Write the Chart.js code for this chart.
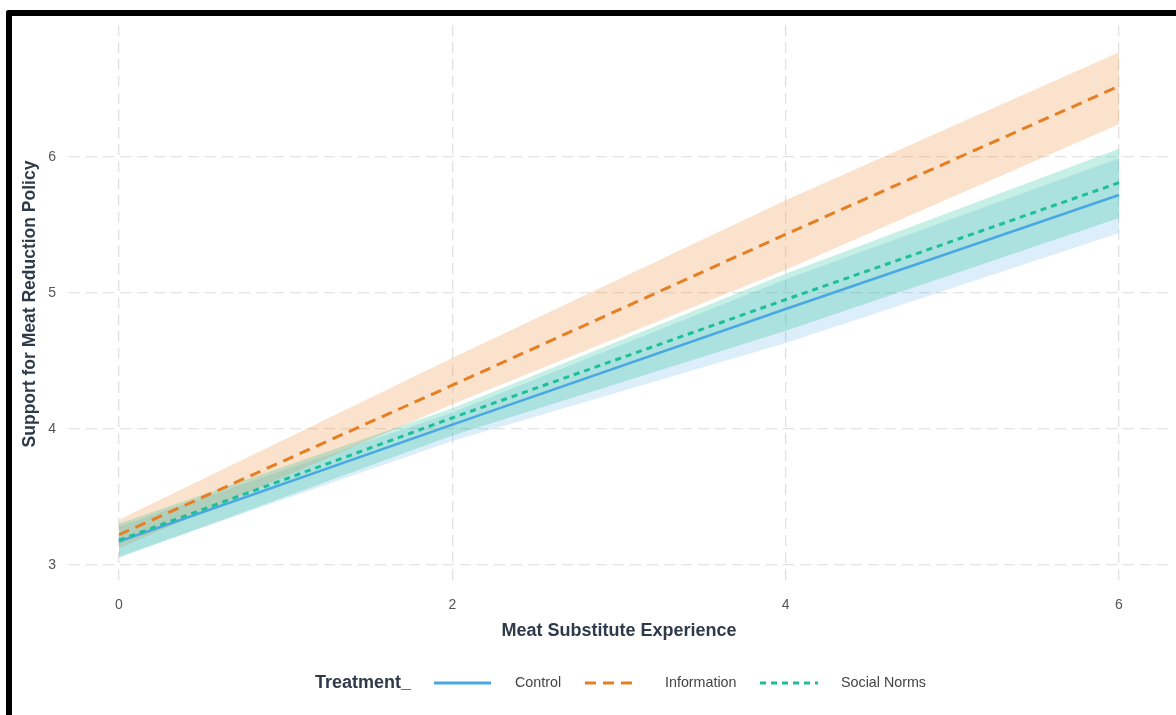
<!DOCTYPE html>
<html>
<head>
<meta charset="utf-8">
<script src="https://cdn.jsdelivr.net/npm/chart.js@4/dist/chart.umd.min.js"></script>
<style>
  html, body { margin: 0; padding: 0; background: #fff; }
  #wrap { position: relative; width: 1176px; height: 715px; overflow: hidden; background: #fff; }
  #c { position: absolute; left: 0; top: 0; }
  .bar { position: absolute; background: #000; }
</style>
</head>
<body>
<div id="wrap">
  <canvas id="c" width="1176" height="715"></canvas>
  <div class="bar" style="left:6px; top:10px; width:1170px; height:6px; border-top-left-radius:3px;"></div>
  <div class="bar" style="left:6px; top:10px; width:6px; height:705px; border-top-left-radius:3px;"></div>
</div>
<script>
// ---- data ----
const xValues = [0, 2, 4, 6];
const xTicks = [0, 2, 4, 6];
const yTicks = [3, 4, 5, 6];
const seriesNames = ['Control', 'Information', 'Social Norms'];
const legendTitle = 'Treatment_';
const xTitle = 'Meat Substitute Experience';
const yTitle = 'Support for Meat Reduction Policy';

const controlFit   = [3.17, 4.03, 4.88, 5.72];
const controlLower = [3.06, 3.91, 4.63, 5.44];
const controlUpper = [3.28, 4.12, 5.10, 5.99];

const infoFit   = [3.22, 4.32, 5.43, 6.52];
const infoLower = [3.12, 4.18, 5.17, 6.24];
const infoUpper = [3.33, 4.52, 5.68, 6.77];

const socialFit   = [3.18, 4.08, 4.95, 5.81];
const socialLower = [3.05, 3.95, 4.72, 5.55];
const socialUpper = [3.30, 4.15, 5.14, 6.06];

// ---- styles ----
const lineColors = ['#4AA8E0', '#E67E22', '#1DBF98'];
const bandColors = ['rgba(74,168,224,0.20)', 'rgba(240,138,50,0.25)', 'rgba(29,191,152,0.25)'];
const dashes = [[], [11, 7], [6, 5]];
const FONT = '"Liberation Sans", Arial, Helvetica, sans-serif';

const pts = arr => xValues.map((x, i) => ({ x: x, y: arr[i] }));

const fits = [controlFit, infoFit, socialFit];
const lowers = [controlLower, infoLower, socialLower];
const uppers = [controlUpper, infoUpper, socialUpper];

const datasets = [];
for (let s = 0; s < 3; s++) {
  datasets.push({
    label: seriesNames[s] + ' lower', data: pts(lowers[s]), borderWidth: 0, pointRadius: 0,
    borderColor: 'rgba(0,0,0,0)', fill: false, order: 10 - s, isBand: true
  });
  datasets.push({
    label: seriesNames[s] + ' upper', data: pts(uppers[s]), borderWidth: 0, pointRadius: 0,
    borderColor: 'rgba(0,0,0,0)', backgroundColor: bandColors[s], fill: '-1', order: 10 - s, isBand: true
  });
}
for (let s = 0; s < 3; s++) {
  datasets.push({
    label: seriesNames[s], data: pts(fits[s]), borderColor: lineColors[s],
    borderWidth: s === 0 ? 2.6 : 3, borderDash: dashes[s], pointRadius: 0, fill: false,
    order: 3 - s, borderCapStyle: 'butt'
  });
}

const legendPlugin = {
  id: 'ggLegend',
  afterDraw(chart) {
    const ctx = chart.ctx;
    const y = 683;
    ctx.save();
    ctx.textBaseline = 'middle';
    ctx.fillStyle = '#2E3A4A';
    ctx.font = 'bold 18px ' + FONT;
    ctx.textAlign = 'left';
    ctx.fillText(legendTitle, 315, y);
    const sampleX = [434, 585, 760];
    const sampleW = [57, 51, 58];
    const textX = [515, 665, 841];
    const lines = chart.data.datasets.filter(d => !d.isBand);
    lines.forEach((d, i) => {
      ctx.beginPath();
      ctx.setLineDash(d.borderDash || []);
      ctx.lineWidth = 3;
      ctx.strokeStyle = d.borderColor;
      ctx.moveTo(sampleX[i], y);
      ctx.lineTo(sampleX[i] + sampleW[i], y);
      ctx.stroke();
      ctx.setLineDash([]);
      ctx.fillStyle = '#444';
      ctx.font = '14.3px ' + FONT;
      ctx.fillText(d.label, textX[i], y);
    });
    ctx.restore();
  }
};

const bgPlugin = {
  id: 'bg',
  beforeDraw(chart) {
    const ctx = chart.ctx;
    ctx.save();
    ctx.fillStyle = '#fff';
    ctx.fillRect(0, 0, chart.width, chart.height);
    ctx.restore();
  }
};

const gridOpts = { color: '#E2E2E2', lineWidth: 1.3, drawTicks: false };

new Chart(document.getElementById('c'), {
  type: 'line',
  data: { datasets: datasets },
  plugins: [bgPlugin, legendPlugin],
  options: {
    responsive: false,
    animation: false,
    layout: { padding: { top: 25, right: 7, left: 0, bottom: 50 } },
    plugins: { legend: { display: false }, tooltip: { enabled: false } },
    elements: { line: { tension: 0 } },
    scales: {
      x: {
        type: 'linear', min: -0.3, max: 6.3,
        afterBuildTicks: axis => { axis.ticks = xTicks.map(v => ({ value: v })); },
        afterFit: scale => { scale.height = 82; },
        grid: gridOpts,
        border: { display: false, dash: [11, 6] },
        ticks: { color: '#555', font: { family: FONT, size: 14 }, padding: 14, maxRotation: 0 },
        title: { display: true, text: xTitle, color: '#2E3A4A', font: { family: FONT, size: 18, weight: 'bold' }, padding: { top: 0, bottom: 23 } }
      },
      y: {
        type: 'linear', min: 2.865, max: 6.97,
        afterBuildTicks: axis => { axis.ticks = yTicks.map(v => ({ value: v })); },
        afterFit: scale => { scale.width = 69; },
        grid: gridOpts,
        border: { display: false, dash: [11, 6] },
        ticks: { color: '#555', font: { family: FONT, size: 14 }, padding: 13 },
        title: { display: true, text: yTitle, color: '#2E3A4A', font: { family: FONT, size: 17.5, weight: 'bold' }, padding: { top: 20, bottom: 0 } }
      }
    }
  }
});
</script>
</body>
</html>
